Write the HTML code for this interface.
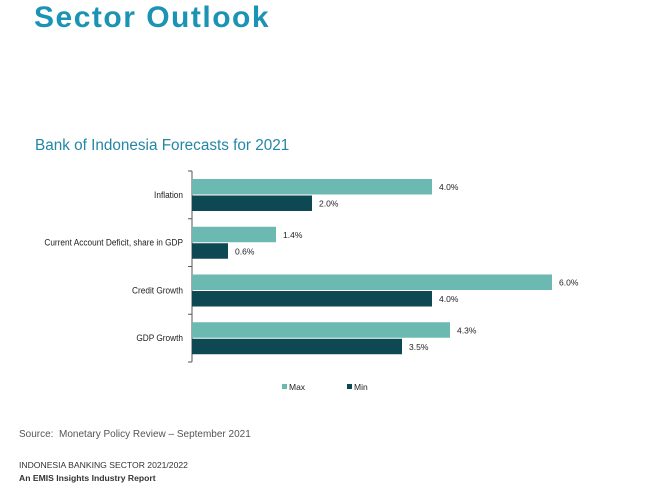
<!DOCTYPE html>
<html><head><meta charset="utf-8"><style>
body{margin:0;width:670px;height:500px;background:#fff;position:relative;overflow:hidden;font-family:"Liberation Sans",sans-serif}
.t{position:absolute;white-space:nowrap}
</style></head><body>
<div class="t" style="left:34px;top:1px;font-size:30px;font-weight:bold;color:#1b93b5;letter-spacing:1.5px">Sector Outlook</div>
<div class="t" style="left:35px;top:137px;font-size:15.3px;color:#2386a6">Bank of Indonesia Forecasts for 2021</div>
<svg id="c" width="670" height="500" style="position:absolute;left:0;top:0"></svg>
<div class="t" style="left:19px;top:429px;font-size:10px;color:#555">Source:&nbsp; Monetary Policy Review – September 2021</div>
<div class="t" style="left:19px;top:460px;font-size:8.6px;color:#333">INDONESIA BANKING SECTOR 2021/2022</div>
<div class="t" style="left:19px;top:473px;font-size:8.6px;color:#333;font-weight:bold">An EMIS Insights Industry Report</div>
<script>
const categories=["Inflation","Current Account Deficit, share in GDP","Credit Growth","GDP Growth"];
const maxValues=[4.0,1.4,6.0,4.3];
const minValues=[2.0,0.6,4.0,3.5];
const NS="http://www.w3.org/2000/svg";
const svg=document.getElementById('c');
const x0=192,pxPer=60,yTop=171,band=47.75;
const xs=v=>x0+v*pxPer;
function el(t,a,p){const e=document.createElementNS(NS,t);for(const k in a)e.setAttribute(k,a[k]);(p||svg).appendChild(e);return e;}
const ax=el('line',{x1:x0,y1:yTop,x2:x0,y2:yTop+band*4,stroke:'#555','stroke-width':1});


for(let i=0;i<=4;i++){const tk=el('line',{x1:x0-4,x2:x0,y1:yTop+band*i,y2:yTop+band*i,stroke:'#555'});

}
categories.forEach((c,i)=>{
 const by=yTop+band*i+8;
 const lb=el('text',{x:183,y:by+19,'text-anchor':'end','font-size':9,fill:'#222','font-family':'Liberation Sans'});lb.textContent=c;
 lb.setAttribute('transform','translate(183 0) scale(0.92 1) translate(-183 0)');
 
 
 [[maxValues[i],'#6cb9b1',by],[minValues[i],'#0e4853',by+16.5]].forEach(([v,col,y],j)=>{
  const r=el('rect',{x:x0,y:y,width:xs(v)-x0,height:15.5,fill:col});
  
  
  const t=el('text',{x:xs(v)+7,y:y+11,'font-size':8.5,fill:'#222','font-family':'Liberation Sans'});t.textContent=v.toFixed(1)+'%';
  
  
 });
});
[['Max','#6cb9b1',282],['Min','#0e4853',347]].forEach(([n,col,x])=>{
 const s=el('rect',{x:x,y:384,width:5,height:5,fill:col});
 
 
 const t=el('text',{x:x+7,y:390,'font-size':8.5,fill:'#222','font-family':'Liberation Sans'});t.textContent=n;
 
 
});
</script>
</body></html>
